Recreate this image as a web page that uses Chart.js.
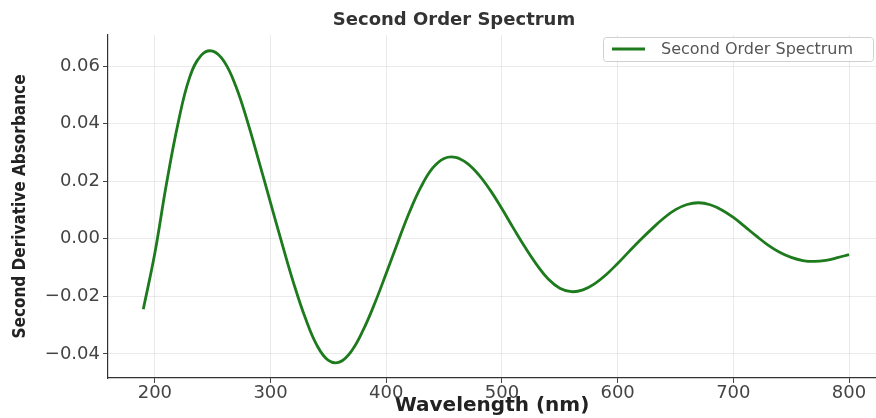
<!DOCTYPE html>
<html>
<head>
<meta charset="utf-8">
<script src="https://cdn.jsdelivr.net/npm/chart.js@4.4.1/dist/chart.umd.min.js"></script>
<style>
  html, body { margin: 0; padding: 0; background: #fff; }
  #wrap { width: 876px; height: 418px; }
</style>
</head>
<body>
<div id="wrap"><canvas id="chart" width="876" height="418"></canvas></div>
<script>
// wavelength (nm) and second derivative values
const wavelengths = [
  190, 200, 210, 220, 230, 240, 250, 260, 270, 280,
  290, 300, 310, 320, 330, 340, 350, 360, 370, 380,
  390, 400, 410, 420, 430, 440, 450, 460, 470, 480,
  490, 500, 510, 520, 530, 540, 550, 560, 570, 580,
  590, 600, 610, 620, 630, 640, 650, 660, 670, 680,
  690, 700, 710, 720, 730, 740, 750, 760, 770, 780,
  790, 800
];
const secondDeriv = [
  -0.0245, -0.0050, 0.0190, 0.0400, 0.0560, 0.0637, 0.0652, 0.0615, 0.0530, 0.0408,
  0.0268, 0.0125, -0.0018, -0.0155, -0.0275, -0.0370, -0.0423, -0.0428, -0.0390, -0.0318,
  -0.0225, -0.0120, -0.0012, 0.0092, 0.0180, 0.0245, 0.0279, 0.0283, 0.0262, 0.0222,
  0.0168, 0.0104, 0.0036, -0.0030, -0.0090, -0.0140, -0.0172, -0.0184, -0.0178, -0.0157,
  -0.0125, -0.0086, -0.0044, -0.0003, 0.0036, 0.0072, 0.0101, 0.0119, 0.0125, 0.0118,
  0.0100, 0.0074, 0.0042, 0.0009, -0.0022, -0.0047, -0.0065, -0.0076, -0.0079, -0.0075,
  -0.0066, -0.0055
];
const xTicks = [200, 300, 400, 500, 600, 700, 800];
const yTicks = [-0.04, -0.02, 0.00, 0.02, 0.04, 0.06];

const chartTitle = "Second Order Spectrum";
const seriesName = "Second Order Spectrum";
const lineColor = "#1d7a1d";

// title a bit right of the canvas centre, as in the original
const titleText = {
  id: "titleText",
  afterDraw(chart) {
    const { ctx } = chart;
    ctx.save();
    ctx.fillStyle = "#333";
    ctx.font = "bold 18px 'DejaVu Sans'";
    ctx.textAlign = "center";
    ctx.textBaseline = "middle";
    ctx.fillText(chartTitle, 454, 20);
    ctx.restore();
  },
};

// legend box drawn inside the plot, top right
const legendBox = {
  id: "legendBox",
  afterDraw(chart) {
    const { ctx, chartArea } = chart;
    const w = 270, h = 24;
    const x = chartArea.right - w - 3;
    const y = chartArea.top + 2;
    ctx.save();
    ctx.fillStyle = "rgba(255,255,255,0.85)";
    ctx.strokeStyle = "#d0d0d0";
    ctx.lineWidth = 1;
    ctx.beginPath();
    ctx.roundRect(x + 0.5, y + 0.5, w, h, 3);
    ctx.fill();
    ctx.stroke();
    ctx.strokeStyle = lineColor;
    ctx.lineWidth = 2.8;
    ctx.beginPath();
    ctx.moveTo(x + 9, y + h / 2);
    ctx.lineTo(x + 42, y + h / 2);
    ctx.stroke();
    ctx.fillStyle = "#555";
    ctx.font = "16px 'DejaVu Sans'";
    ctx.textBaseline = "middle";
    ctx.fillText(seriesName, x + 58, y + h / 2 + 1);
    ctx.restore();
  },
};

const points = wavelengths.map((w, i) => ({ x: w, y: secondDeriv[i] }));

new Chart(document.getElementById("chart"), {
  type: "line",
  data: {
    datasets: [
      {
        label: seriesName,
        data: points,
        borderColor: lineColor,
        borderWidth: 2.8,
        pointRadius: 0,
        tension: 0.4,
        fill: false,
      },
    ],
  },
  options: {
    responsive: false,
    animation: false,
    layout: { padding: { left: 0, right: 0, top: 35, bottom: 0 } },
    plugins: {
      legend: { display: false },
      tooltip: { enabled: false },
      title: { display: false },
    },
    scales: {
      x: {
        type: "linear",
        min: 159.5,
        max: 823.3,
        afterBuildTicks: (s) => { s.ticks = xTicks.map((v) => ({ value: v })); },
        afterFit: (s) => { s.height = 40; },
        ticks: {
          color: "#444",
          font: { family: "'DejaVu Sans'", size: 18 },
          padding: 0,
          maxRotation: 0,
        },
        grid: {
          color: "rgba(0,0,0,0.08)",
          tickColor: "#444",
          tickLength: 5,
        },
        border: { color: "#333", width: 1.2 },
        title: {
          display: true,
          text: "Wavelength (nm)",
          color: "#222",
          font: { family: "'DejaVu Sans'", size: 20, weight: "bold" },
          padding: { top: 0, bottom: 0 },
        },
      },
      y: {
        type: "linear",
        min: -0.0484,
        max: 0.0708,
        afterBuildTicks: (s) => { s.ticks = yTicks.map((v) => ({ value: v })); },
        afterFit: (s) => { s.width = 108; },
        ticks: {
          color: "#444",
          font: { family: "'DejaVu Sans'", size: 18 },
          padding: 3,
          callback: (v) => (v < 0 ? "\u2212" + Math.abs(v).toFixed(2) : v.toFixed(2)),
        },
        grid: {
          color: "rgba(0,0,0,0.08)",
          tickColor: "#444",
          tickLength: 5,
        },
        border: { color: "#333", width: 1.2 },
        title: {
          display: true,
          text: "Second Derivative Absorbance",
          color: "#222",
          font: { family: "'DejaVu Sans Condensed', 'DejaVu Sans'", size: 17, weight: "bold" },
          padding: { top: 10, bottom: 0 },
        },
      },
    },
  },
  plugins: [titleText, legendBox],
});
</script>
</body>
</html>
